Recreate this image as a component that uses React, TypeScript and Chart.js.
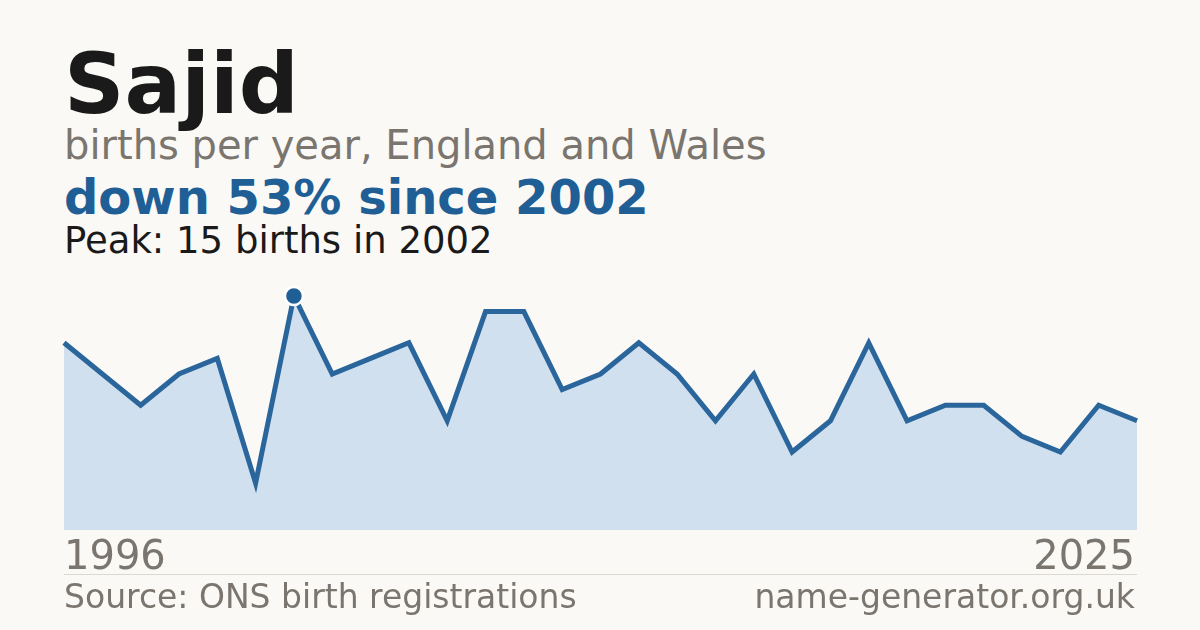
import { useEffect, useRef } from 'react';
import { Chart, registerables } from 'chart.js';

Chart.register(...registerables);

const years = [
  '1996', '1997', '1998', '1999', '2000', '2001', '2002', '2003', '2004', '2005',
  '2006', '2007', '2008', '2009', '2010', '2011', '2012', '2013', '2014', '2015',
  '2016', '2017', '2018', '2019', '2020', '2021', '2022', '2023', '2025',
];
const births = [12, 10, 8, 10, 11, 3, 15, 10, 11, 12, 7, 14, 14, 9, 10, 12, 10, 7, 10, 5, 7, 12, 7, 8, 8, 6, 5, 8, 7];
const firstLabel = '1996';
const lastLabel = '2025';

const FONT = '"DejaVu Sans", Verdana, sans-serif';

const text = (top: number, size: number, color: string, weight = 400, extra: any = {}) => ({
  position: 'absolute' as const,
  top,
  left: 64,
  fontFamily: FONT,
  fontSize: size,
  lineHeight: `${size}px`,
  color,
  fontWeight: weight,
  whiteSpace: 'nowrap' as const,
  ...extra,
});

const App = () => {
  const chartRef = useRef<HTMLCanvasElement | null>(null);

  useEffect(() => {
    document.body.style.margin = '0';
    const ctx = chartRef.current?.getContext('2d');
    if (!ctx) return;

    // only the peak year gets a marker
    const peak = Math.max(...births);
    const radii = births.map((v) => (v === peak ? 9 : 0));

    const chart = new Chart(ctx, {
      type: 'line',
      data: {
        labels: years,
        datasets: [{
          data: births,
          borderColor: '#2a659b',
          borderWidth: 5,
          backgroundColor: '#d0e0ef',
          fill: 'origin',
          tension: 0,
          pointRadius: radii,
          pointHoverRadius: radii,
          pointBackgroundColor: '#1f5f96',
          pointBorderColor: '#ffffff',
          pointBorderWidth: 2.5,
          clip: false,
        }],
      },
      options: {
        animation: false,
        responsive: false,
        maintainAspectRatio: false,
        layout: { padding: 20 },
        plugins: { legend: { display: false }, tooltip: { enabled: false } },
        scales: {
          x: { display: false, offset: false },
          y: { display: false, min: 0, max: 15 },
        },
      },
    });

    return () => {
      chart.destroy();
    };
  }, []);

  return (
    <div style={{ position: 'relative', width: 1200, height: 630, background: '#faf9f5', overflow: 'hidden' }}>
      <div style={text(42, 84, '#1a1a1a', 700)}>Sajid</div>
      <div style={text(125, 40, '#7a756e')}>births per year, England and Wales</div>
      <div style={text(173, 48, '#1f5f96', 700)}>down 53% since 2002</div>
      <div style={text(222, 37, '#1a1a1a')}>Peak: 15 births in 2002</div>
      <canvas
        ref={chartRef}
        width={1113}
        height={274}
        style={{ position: 'absolute', left: 44, top: 276, width: 1113, height: 274 }}
      />
      <div style={text(535, 40, '#7a756e')}>{firstLabel}</div>
      <div style={text(535, 40, '#7a756e', 400, { left: 'auto', right: 65 })}>{lastLabel}</div>
      <div style={{ position: 'absolute', left: 64, top: 574, width: 1073, height: 1, background: '#dcd9d2' }} />
      <div style={text(580, 33, '#7a756e')}>Source: ONS birth registrations</div>
      <div style={text(580, 33, '#7a756e', 400, { left: 'auto', right: 65 })}>name-generator.org.uk</div>
    </div>
  );
};

export default App;
